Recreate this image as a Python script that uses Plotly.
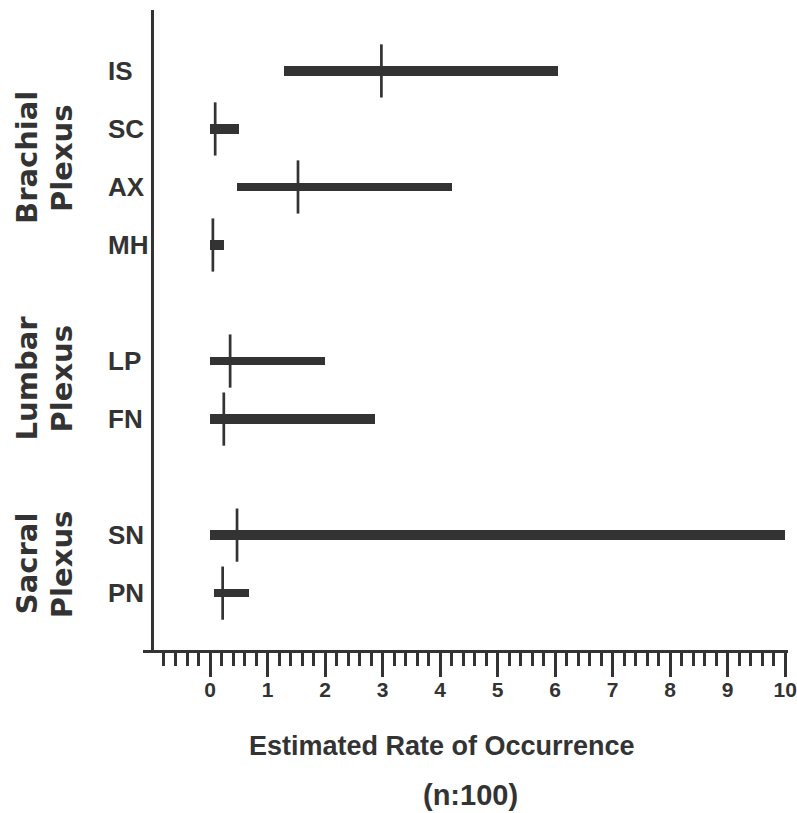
import plotly.graph_objects as go

# ---- data ----
sites = ["IS", "SC", "AX", "MH", "LP", "FN", "SN", "PN"]
groups = ["Brachial Plexus"] * 4 + ["Lumbar Plexus"] * 2 + ["Sacral Plexus"] * 2
low = [1.28, 0.0, 0.47, 0.0, 0.0, 0.0, 0.0, 0.07]
high = [6.05, 0.5, 4.2, 0.25, 2.0, 2.87, 10.0, 0.68]
median = [2.98, 0.09, 1.53, 0.05, 0.35, 0.24, 0.47, 0.22]
x_ticks = list(range(0, 11))

# ---- styling ----
INK = "#333333"
SANS = "Liberation Sans, Arial, sans-serif"
WIDE = "DejaVu Sans, Liberation Sans, sans-serif"
bar_px = [10, 10, 8, 9, 8, 10, 10, 8]
PX_PER_ROW = 58.0
PLOT_L, PLOT_W, PLOT_T, PLOT_H = 143, 645, 10, 640

# row positions: one blank row between groups
pos = []
k = 0
for i, g in enumerate(groups):
    if i > 0 and g != groups[i - 1]:
        k += 1
    pos.append(k)
    k += 1

fig = go.Figure()
fig.add_trace(go.Bar(
    y=pos, x=[h - l for h, l in zip(high, low)], base=low, orientation="h",
    width=[p / PX_PER_ROW for p in bar_px],
    marker=dict(color=INK, line=dict(width=0)), showlegend=False, hoverinfo="skip",
))
fig.add_trace(go.Scatter(
    y=pos, x=median, mode="markers",
    marker=dict(symbol="line-ns", size=38, line=dict(width=2.7, color=INK), color=INK),
    showlegend=False, hoverinfo="skip",
))


def px_x(px):
    return (px - PLOT_L) / PLOT_W


def px_y(py):
    return 1 - (py - PLOT_T) / PLOT_H


annotations = []
# site labels
for s, p in zip(sites, pos):
    annotations.append(dict(
        text=s, x=px_x(106), xref="paper", y=p, yref="y",
        xanchor="left", yanchor="middle", showarrow=False,
        font=dict(family=SANS, size=26, color=INK, weight="bold"),
    ))
# group labels (rotated, two lines)
seen = []
for g in groups:
    if g not in seen:
        seen.append(g)
group_center = {"Brachial Plexus": 1.5, "Lumbar Plexus": 5.3, "Sacral Plexus": 8.5}
for g in seen:
    w1, w2 = g.split(" ")
    for word, xpx in ((w1, 27), (w2, 62)):
        annotations.append(dict(
            text=word, x=px_x(xpx), xref="paper", y=group_center[g], yref="y",
            xanchor="center", yanchor="middle", textangle=-90, showarrow=False,
            font=dict(family=WIDE, size=29, color=INK, weight="bold"),
        ))
# axis title lines
annotations.append(dict(
    text="Estimated Rate of Occurrence", x=px_x(442), xref="paper",
    y=px_y(746), yref="paper", xanchor="center", yanchor="middle",
    showarrow=False, font=dict(family=SANS, size=27, color=INK, weight="bold"),
))
annotations.append(dict(
    text="(n:100)", x=px_x(470), xref="paper",
    y=px_y(795), yref="paper", xanchor="center", yanchor="middle",
    showarrow=False, font=dict(family=SANS, size=29, color=INK, weight="bold"),
))

minor_vals = [round(i * 0.2, 1) for i in range(-4, 50) if i % 5 != 0]

fig.update_layout(
    width=797, height=813,
    margin=dict(l=PLOT_L, r=797 - PLOT_L - PLOT_W, t=PLOT_T, b=813 - PLOT_T - PLOT_H),
    plot_bgcolor="white", paper_bgcolor="white",
    bargap=0,
    xaxis=dict(
        range=[-1.165, 10.05], showgrid=False, zeroline=False, automargin=False,
        showline=True, linewidth=3, linecolor=INK,
        tickmode="array", tickvals=x_ticks, ticktext=[str(v) for v in x_ticks],
        ticks="outside", ticklen=24, tickwidth=3, tickcolor=INK,
        ticklabelstandoff=-5,
        tickfont=dict(family=SANS, size=21, color=INK, weight="bold"),
        minor=dict(tickmode="array", tickvals=minor_vals, ticks="outside",
                   ticklen=13, tickwidth=3, tickcolor=INK, showgrid=False),
    ),
    yaxis=dict(
        range=[9.98, -1.05], showgrid=False, zeroline=False, showline=False,
        showticklabels=False, ticks="", automargin=False,
    ),
    shapes=[dict(type="line", xref="x", yref="paper", x0=-1, x1=-1, y0=0, y1=1,
                 line=dict(color=INK, width=3))],
    annotations=annotations,
)

fig.write_html(
    "out.html",
    config={"displayModeBar": False},
    post_script="document.body.style.margin='0px';document.body.style.overflow='hidden';",
)
